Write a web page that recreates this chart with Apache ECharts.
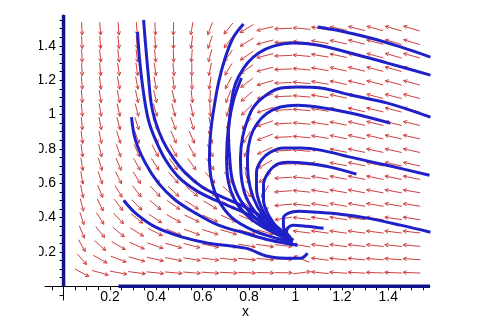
<!DOCTYPE html>
<html>
<head>
<meta charset="utf-8">
<script src="https://cdn.jsdelivr.net/npm/echarts@6/dist/echarts.min.js"></script>
<style>
  html, body { margin: 0; padding: 0; background: #fff; }
  #chart { width: 489px; height: 329px; }
</style>
</head>
<body>
<div id="chart"></div>
<script>
// grid of the direction field (centres of the arrows)
const gridX = [0.079, 0.158, 0.237, 0.316, 0.395, 0.474, 0.553, 0.632, 0.711, 0.79,
               0.869, 0.948, 1.027, 1.106, 1.185, 1.264, 1.343, 1.422, 1.501];
const gridY = [1.501, 1.422, 1.343, 1.264, 1.185, 1.106, 1.027, 0.948, 0.869, 0.79,
               0.711, 0.632, 0.553, 0.474, 0.395, 0.316, 0.237, 0.158, 0.079];

// arrow direction in degrees, one row per gridY value (top row first)
const fieldAngles = [
  [-88,-87,-87,-87,-88,-91,-97,-106,-121,-141,-162,-177,173,167,164,161,160,159,158],
  [-88,-87,-86,-86,-87,-90,-95,-104,-119,-140,-161,-177,173,167,164,161,160,159,158],
  [-88,-86,-85,-85,-86,-88,-93,-101,-117,-138,-161,-177,173,167,164,162,160,159,159],
  [-88,-86,-84,-84,-84,-86,-90,-99,-114,-136,-160,-177,173,167,164,162,161,160,159],
  [-87,-85,-83,-82,-82,-84,-88,-96,-111,-134,-159,-177,173,167,164,162,161,160,160],
  [-87,-84,-82,-81,-80,-81,-85,-92,-107,-131,-158,-177,173,168,164,162,161,161,161],
  [-86,-83,-81,-79,-78,-79,-81,-88,-102,-127,-157,-176,173,168,165,163,162,161,161],
  [-86,-82,-79,-77,-75,-75,-77,-83,-96,-122,-155,-176,173,168,165,163,162,162,162],
  [-85,-81,-77,-75,-72,-72,-73,-77,-89,-115,-152,-176,173,168,165,164,163,163,163],
  [-85,-80,-75,-72,-69,-68,-68,-71,-81,-106,-149,-176,173,168,165,164,164,163,163],
  [-84,-78,-73,-68,-65,-63,-62,-64,-71,-94,-143,-176,173,168,166,165,164,164,164],
  [-83,-76,-70,-65,-60,-57,-56,-56,-61,-78,-133,-175,173,168,166,165,165,165,165],
  [-81,-73,-66,-60,-55,-51,-49,-48,-50,-60,-113,-174,172,168,167,166,166,166,167],
  [-79,-70,-61,-54,-49,-44,-41,-39,-39,-44,-75,-173,172,168,167,167,167,167,168],
  [-77,-65,-55,-48,-42,-37,-33,-31,-30,-30,-39,-168,171,169,168,168,168,169,169],
  [-73,-59,-48,-40,-34,-29,-26,-23,-21,-20,-21,-97,170,169,169,170,170,170,171],
  [-67,-50,-38,-31,-25,-21,-19,-16,-14,-13,-11,-8,167,170,170,171,172,172,173],
  [-57,-37,-27,-21,-17,-14,-12,-10,-9,-7,-6,-3,152,170,172,173,174,174,175],
  [-36,-20,-14,-10,-8,-7,-6,-5,-4,-3,-2,-1,10,172,175,176,177,177,177]
];

// solution curves
const curveTop = [[1.582,1.335],[1.453,1.394],[1.323,1.446],[1.194,1.487],[1.095,1.51]];
const curveA = [[1.582,1.23],[1.397,1.3],[1.237,1.359],[1.095,1.405],[0.991,1.417],[0.905,1.399],
  [0.841,1.359],[0.793,1.3],[0.754,1.219],[0.733,1.143],[0.72,1.026],[0.711,0.892],[0.716,0.752],
  [0.728,0.618],[0.763,0.501],[0.828,0.397],[0.905,0.321],[0.983,0.268]];
const curveB = [[1.582,0.985],[1.397,1.067],[1.237,1.114],[1.108,1.155],[1.009,1.16],[0.922,1.149],
  [0.862,1.102],[0.819,1.044],[0.793,0.968],[0.772,0.869],[0.763,0.752],[0.767,0.63],[0.789,0.513],
  [0.841,0.408],[0.914,0.321],[0.983,0.262]];
const curveC = [[1.409,0.95],[1.237,1.009],[1.095,1.044],[1.009,1.055],[0.935,1.044],[0.879,1.009],
  [0.836,0.95],[0.806,0.869],[0.793,0.752],[0.797,0.63],[0.819,0.513],[0.862,0.408],[0.927,0.315],
  [0.987,0.257]];
const curveD = [[1.578,0.647],[1.409,0.7],[1.237,0.752],[1.108,0.793],[1.022,0.805],[0.948,0.805],
  [0.892,0.781],[0.853,0.735],[0.832,0.665],[0.832,0.571],[0.849,0.472],[0.892,0.373],[0.944,0.297],
  [0.987,0.251]];
const curveE = [[1.263,0.653],[1.151,0.694],[1.047,0.717],[0.966,0.723],[0.922,0.711],[0.884,0.665],
  [0.862,0.589],[0.862,0.501],[0.884,0.414],[0.927,0.332],[0.974,0.268]];
const curveF = [[1.582,0.315],[1.453,0.356],[1.31,0.397],[1.194,0.42],[1.095,0.431],[1.013,0.437],
  [0.97,0.426],[0.948,0.397],[0.948,0.35],[0.966,0.303],[0.987,0.268]];
const curveG = [[1.121,0.338],[1.047,0.35],[0.991,0.356],[0.966,0.338],[0.961,0.303],[0.978,0.268]];
const curveH = [[0.776,1.528],[0.733,1.452],[0.698,1.335],[0.668,1.184],[0.647,1.026],[0.634,0.892],
  [0.629,0.752],[0.638,0.618],[0.668,0.501],[0.728,0.397],[0.815,0.327],[0.901,0.286],[0.97,0.262]];
const curveI = [[0.767,1.213],[0.733,1.085],[0.711,0.927],[0.703,0.752],[0.711,0.606],[0.746,0.484],
  [0.815,0.385],[0.901,0.315],[0.978,0.268]];
const curveJ = [[0.345,1.551],[0.353,1.417],[0.366,1.219],[0.379,1.055],[0.397,0.956],[0.427,0.851],
  [0.47,0.752],[0.526,0.659],[0.599,0.577],[0.685,0.519],[0.784,0.461],[0.892,0.373],[0.978,0.286]];
const curveK = [[0.319,1.481],[0.328,1.318],[0.345,1.125],[0.366,0.968],[0.397,0.851],[0.44,0.735],
  [0.496,0.636],[0.569,0.56],[0.655,0.501],[0.784,0.426],[0.892,0.35],[0.991,0.268]];
const curveL = [[0.293,0.985],[0.31,0.851],[0.353,0.717],[0.409,0.601],[0.483,0.501],[0.569,0.426],
  [0.668,0.356],[0.784,0.309],[0.892,0.268],[1.009,0.239]];
const curveM = [[0.259,0.501],[0.31,0.426],[0.397,0.344],[0.513,0.286],[0.625,0.251],[0.784,0.222],
  [0.879,0.175],[0.957,0.163],[1.022,0.163],[1.052,0.192]];
const curveYAxis = [[0, 0], [0, 1.58]];
const curveXAxis = [[0.237, 0], [1.58, 0]];

// axis ticks and labels
const tickValues = [-0.05, 0, 0.05, 0.1, 0.15, 0.2, 0.25, 0.3, 0.35, 0.4, 0.45, 0.5, 0.55, 0.6,
  0.65, 0.7, 0.75, 0.8, 0.85, 0.9, 0.95, 1, 1.05, 1.1, 1.15, 1.2, 1.25, 1.3, 1.35, 1.4, 1.45, 1.5, 1.55];
const labelValues = [0.2, 0.4, 0.6, 0.8, 1, 1.2, 1.4];

const chart = echarts.init(document.getElementById("chart"));

const arrowLen = 0.075;
const fieldData = [];
gridY.forEach((y, r) => {
  gridX.forEach((x, c) => {
    fieldData.push([x, y, fieldAngles[r][c]]);
  });
});

function renderArrow(params, api) {
  const x = api.value(0);
  const y = api.value(1);
  const a = (api.value(2) * Math.PI) / 180;
  const h = arrowLen / 2;
  const p0 = api.coord([x - h * Math.cos(a), y - h * Math.sin(a)]);
  const p1 = api.coord([x + h * Math.cos(a), y + h * Math.sin(a)]);
  const dx = p1[0] - p0[0];
  const dy = p1[1] - p0[1];
  const d = Math.sqrt(dx * dx + dy * dy) || 1;
  const ux = dx / d;
  const uy = dy / d;
  const hl = 3.5;
  const hw = 1.8;
  const b1 = [p1[0] - hl * ux + hw * uy, p1[1] - hl * uy - hw * ux];
  const b2 = [p1[0] - hl * ux - hw * uy, p1[1] - hl * uy + hw * ux];
  const style = { stroke: "#d04040", lineWidth: 1, fill: null };
  return {
    type: "group",
    children: [
      { type: "line", shape: { x1: p0[0], y1: p0[1], x2: p1[0], y2: p1[1] }, style: style },
      { type: "polyline", shape: { points: [b1, p1, b2] }, style: style },
    ],
  };
}

function curve(data, color, width) {
  return {
    type: "line",
    data: data,
    smooth: 0.35,
    showSymbol: false,
    symbol: "none",
    silent: true,
    z: 4,
    lineStyle: { color: color, width: width },
  };
}

const axisCommon = {
  type: "value",
  min: -0.08,
  max: 1.58,
  splitLine: { show: false },
  axisLine: { onZero: true, lineStyle: { color: "#000", width: 1 } },
  axisTick: { customValues: tickValues, length: 4, lineStyle: { color: "#000" } },
};

const option = {
  animation: false,
  backgroundColor: "#fff",
  grid: { left: 45, top: 15, width: 385, height: 285 },
  xAxis: Object.assign({}, axisCommon, {
    axisLabel: {
      customValues: labelValues,
      color: "#000",
      fontSize: 14,
      fontFamily: "Liberation Sans",
      margin: -10,
    },
  }),
  yAxis: Object.assign({}, axisCommon, {
    axisLabel: {
      customValues: labelValues,
      color: "#000",
      fontSize: 14,
      fontFamily: "Liberation Sans",
      margin: -11,
    },
  }),
  graphic: [
    {
      type: "text",
      left: 242,
      top: 305,
      style: { text: "x", fontSize: 14, fontFamily: "Liberation Sans", fill: "#000" },
    },
    {
      type: "rect",
      left: 0,
      top: 0,
      z: 100,
      shape: { width: 39, height: 329 },
      style: { fill: "#fff" },
    },
  ],
  series: [
    {
      type: "custom",
      renderItem: renderArrow,
      data: fieldData,
      encode: { x: 0, y: 1 },
      silent: true,
      z: 2,
    },
    curve(curveTop, "#2020c8", 3),
    curve(curveA, "#2020c8", 3),
    curve(curveB, "#2020c8", 3),
    curve(curveC, "#2020c8", 3),
    curve(curveD, "#2020c8", 3),
    curve(curveE, "#2020c8", 3),
    curve(curveF, "#2020c8", 3),
    curve(curveG, "#2020c8", 3),
    curve(curveH, "#2020c8", 3),
    curve(curveI, "#2020c8", 3),
    curve(curveJ, "#2020c8", 3),
    curve(curveK, "#2020c8", 3),
    curve(curveL, "#2020c8", 3),
    curve(curveM, "#2020c8", 3),
    curve(curveYAxis, "#12128f", 3.5),
    curve(curveXAxis, "#12128f", 3.5),
  ],
};

chart.setOption(option);
</script>
</body>
</html>
